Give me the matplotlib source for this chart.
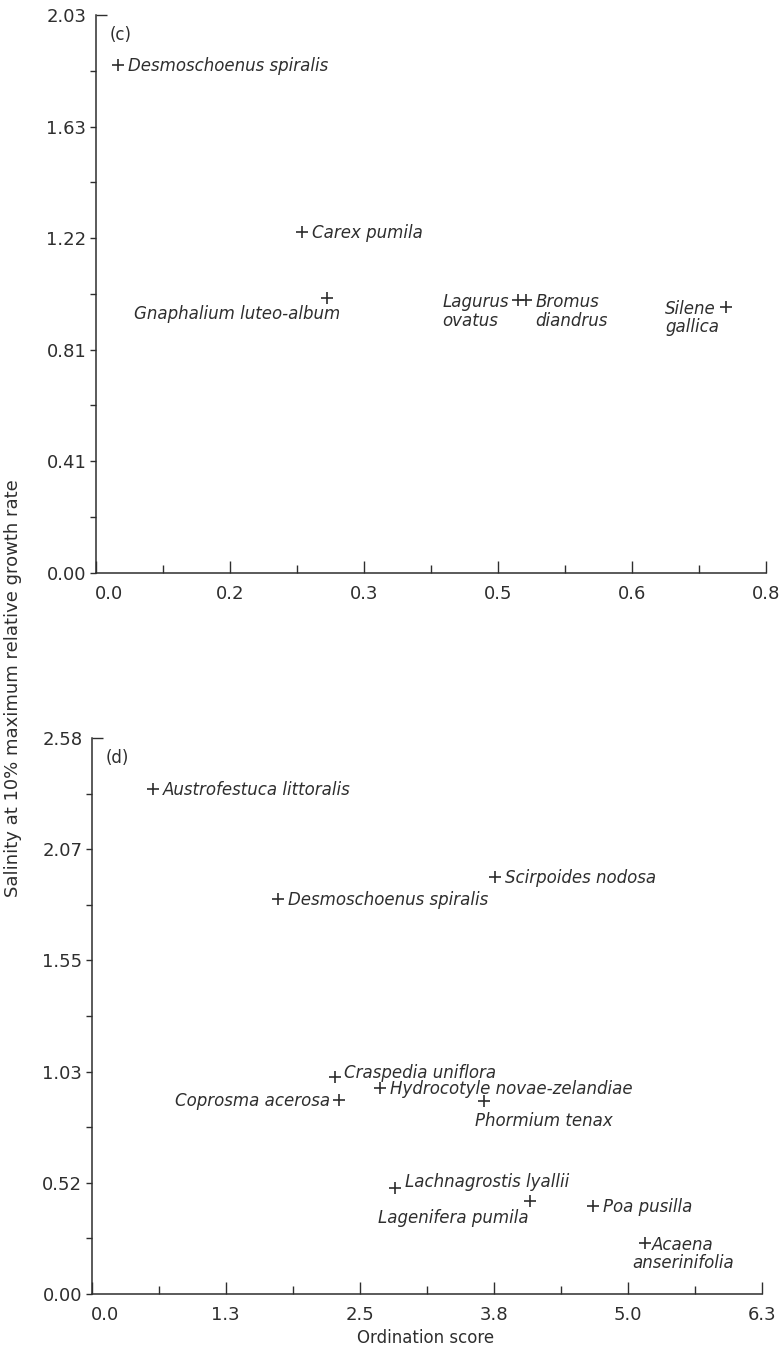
import numpy as np
import matplotlib.pyplot as plt
import matplotlib.lines as mlines
from matplotlib.transforms import ScaledTranslation

plt.rcParams['font.family'] = ['DejaVu Sans']

INK = '#2e2e2e'

# panel (c)
c_species = ['Desmoschoenus spiralis', 'Carex pumila', 'Gnaphalium luteo-album',
             'Lagurus\novatus', 'Bromus\ndiandrus', 'Silene\ngallica']
c_x = [0.027, 0.246, 0.276, 0.504, 0.514, 0.753]
c_y = [1.851, 1.241, 1.000, 0.994, 0.994, 0.970]
c_xticklabels = ['0.0', '0.2', '0.3', '0.5', '0.6', '0.8']
c_yticklabels = ['0.00', '0.41', '0.81', '1.22', '1.63', '2.03']

# panel (d)
d_species = ['Austrofestuca littoralis', 'Scirpoides nodosa', 'Desmoschoenus spiralis',
             'Craspedia uniflora', 'Hydrocotyle novae-zelandiae', 'Coprosma acerosa',
             'Phormium tenax', 'Lachnagrostis lyallii', 'Lagenifera pumila',
             'Poa pusilla', 'Acaena\nanserinifolia']
d_x = [0.572, 3.792, 1.752, 2.288, 2.711, 2.325, 3.689, 2.852, 4.121, 4.718, 5.203]
d_y = [2.348, 1.937, 1.836, 1.010, 0.956, 0.902, 0.897, 0.491, 0.434, 0.409, 0.239]
d_xticklabels = ['0.0', '1.3', '2.5', '3.8', '5.0', '6.3']
d_yticklabels = ['0.00', '0.52', '1.03', '1.55', '2.07', '2.58']

# where each label sits relative to its cross (pixels, ha, va)
label_place = {
    'Gnaphalium luteo-album': (13, -21, 'right', 'baseline'),
    'Lagurus\novatus': (-9, 7, 'right', 'top'),
    'Bromus\ndiandrus': (9, 7, 'left', 'top'),
    'Silene\ngallica': (-7, 7, 'right', 'top'),
    'Craspedia uniflora': (9, -1, 'left', 'baseline'),
    'Coprosma acerosa': (-9, -6, 'right', 'baseline'),
    'Phormium tenax': (-9, -25, 'left', 'baseline'),
    'Lachnagrostis lyallii': (10, 1, 'left', 'baseline'),
    'Lagenifera pumila': (-1, -22, 'right', 'baseline'),
    'Acaena\nanserinifolia': (38, 7, 'center', 'top'),
}


def draw_panel(ax, species, xs, ys, xmax, ymax, xticklabels, yticklabels, tag):
    ax.plot(xs, ys, linestyle='none', marker='+', markersize=9,
            markeredgewidth=1.2, color=INK)
    for name, x, y in zip(species, xs, ys):
        dx, dy, ha, va = label_place.get(name, (10, -6, 'left', 'baseline'))
        ax.annotate(name, (x, y), xytext=(dx, dy), textcoords='offset pixels',
                    ha=ha, va=va, multialignment='center' if ha == 'center' else 'left',
                    fontsize=12, fontstyle='italic', color=INK, linespacing=1.05)

    ax.set_xlim(0, xmax)
    ax.set_ylim(0, ymax)
    xt = np.linspace(0, xmax, 6)
    yt = np.linspace(0, ymax, 6)
    ax.set_xticks(xt)
    ax.set_xticklabels(xticklabels)
    ax.set_yticks(yt)
    ax.set_yticklabels(yticklabels)
    ax.set_xticks((xt[:-1] + xt[1:]) / 2, minor=True)
    ax.set_yticks((yt[:-1] + yt[1:]) / 2, minor=True)

    for side in ['top', 'right']:
        ax.spines[side].set_visible(False)
    for side in ['left', 'bottom']:
        ax.spines[side].set_linewidth(1.1)
        ax.spines[side].set_color(INK)

    ax.tick_params(axis='x', which='major', direction='in', length=8.6, width=1.0,
                   pad=8.5, labelsize=13, colors=INK)
    ax.tick_params(axis='x', which='minor', direction='in', length=5.5, width=1.0,
                   colors=INK)
    ax.tick_params(axis='y', which='both', direction='out', length=4.3, width=1.0,
                   pad=2.5, labelsize=13, colors=INK)

    # top y tick points into the plot, first x label sits clear of the axis
    top = ax.yaxis.get_major_ticks()[-1]
    top.tick1line.set_marker(mlines.TICKRIGHT)
    top.tick1line.set_markersize(8)
    first = ax.xaxis.get_major_ticks()[0].label1
    first.set_transform(first.get_transform() +
                        ScaledTranslation(0.13, 0, ax.figure.dpi_scale_trans))

    ax.text(0, 1, tag, transform=ax.transAxes + ScaledTranslation(0.14, -0.20, ax.figure.dpi_scale_trans),
            ha='left', va='center', fontsize=12, color=INK)


fig = plt.figure(figsize=(7.83, 13.48), dpi=100)
ax_c = fig.add_axes([95.7 / 783, 1 - 572.7 / 1348, 670 / 783, 557.7 / 1348])
ax_d = fig.add_axes([91.7 / 783, 1 - 1294 / 1348, 670 / 783, 556 / 1348])

draw_panel(ax_c, c_species, c_x, c_y, 0.8, 2.033, c_xticklabels, c_yticklabels, '(c)')
draw_panel(ax_d, d_species, d_x, d_y, 6.3, 2.585, d_xticklabels, d_yticklabels, '(d)')

fig.text(13 / 783, 1 - 688 / 1348, 'Salinity at 10% maximum relative growth rate',
         rotation=90, ha='center', va='center', fontsize=13, color=INK)
fig.text(426 / 783, 1 - 1338 / 1348, 'Ordination score',
         ha='center', va='center', fontsize=12, color=INK)

fig.savefig('out.png', dpi=100)
plt.close(fig)
